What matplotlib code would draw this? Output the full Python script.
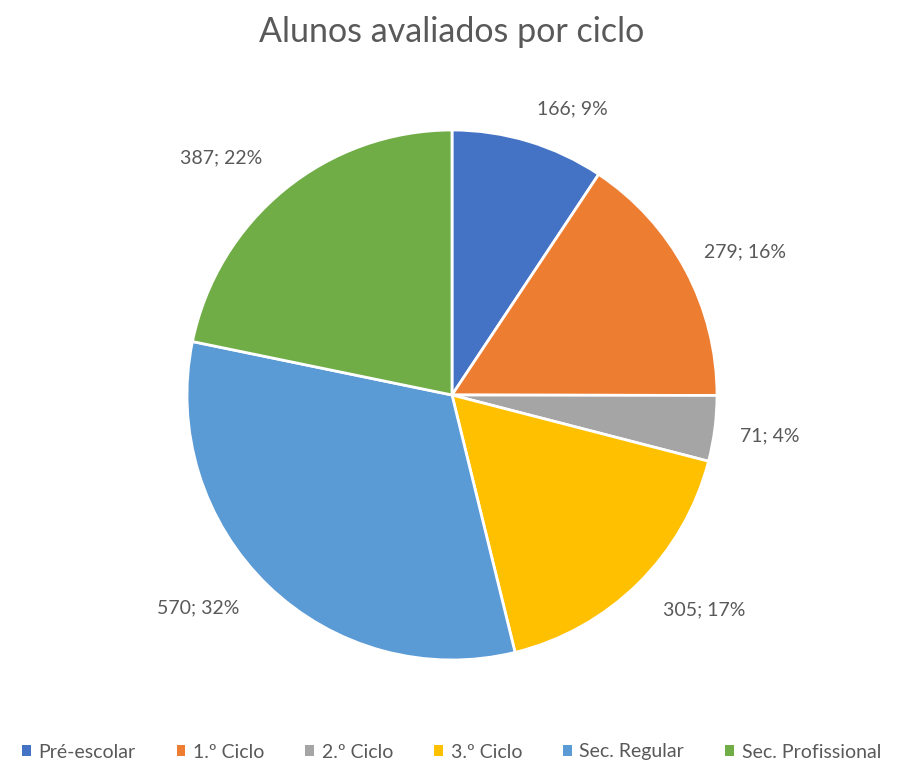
import matplotlib
matplotlib.use("Agg")
import numpy as np
import matplotlib.pyplot as plt
from matplotlib.patches import Patch

plt.rcParams['font.family'] = ['Lato', 'DejaVu Sans']

categories = ["Pré-escolar", "1.º Ciclo", "2.º Ciclo", "3.º Ciclo", "Sec. Regular", "Sec. Profissional"]
alunos = [166, 279, 71, 305, 570, 387]
percent = [9, 16, 4, 17, 32, 22]
colors = ["#4472C4", "#ED7D31", "#A5A5A5", "#FFC000", "#5B9BD5", "#70AD47"]

W, H = 903, 764
fig = plt.figure(figsize=(W / 100, H / 100), dpi=100)

# pie axes: centre (452, 395) px, radius ~265 px
r = 265
ax = fig.add_axes([(452 - r) / W, (H - 395 - r) / H, 2 * r / W, 2 * r / H])

labels = [f"{v}; {p}%" for v, p in zip(alunos, percent)]
wedges, texts = ax.pie(alunos, labels=labels, colors=colors, startangle=90, counterclock=False,
                       labeldistance=1.24, radius=1,
                       wedgeprops=dict(edgecolor="white", linewidth=2),
                       textprops=dict(color="#595959", fontsize=14))

# Excel "best fit" puts labels at slightly different distances / angles
label_dist = [1.17, 1.23, 1.21, 1.25, 1.25, 1.25]
label_shift = [-6, -2, 0, 5, -6, 5]
for w, t, d, s in zip(wedges, texts, label_dist, label_shift):
    ang = np.deg2rad((w.theta1 + w.theta2) / 2 + s)
    t.set_position((d * np.cos(ang), d * np.sin(ang)))
    t.set_ha("center")
    t.set_va("center")
ax.set_xlim(-1, 1)
ax.set_ylim(-1, 1)

fig.text(0.5, 1 - 32 / H, "Alunos avaliados por ciclo", ha="center", va="center",
         fontsize=24.5, color="#595959")

handles = [Patch(facecolor=c, edgecolor="none") for c in colors]
fig.legend(handles, categories, loc="center", bbox_to_anchor=(0.5, 1 - 752 / H), ncol=6,
           frameon=False, fontsize=14, handlelength=0.45, handleheight=0.45,
           handletextpad=0.4, columnspacing=2.1, labelcolor="#595959")

fig.savefig("out.png", dpi=100)
